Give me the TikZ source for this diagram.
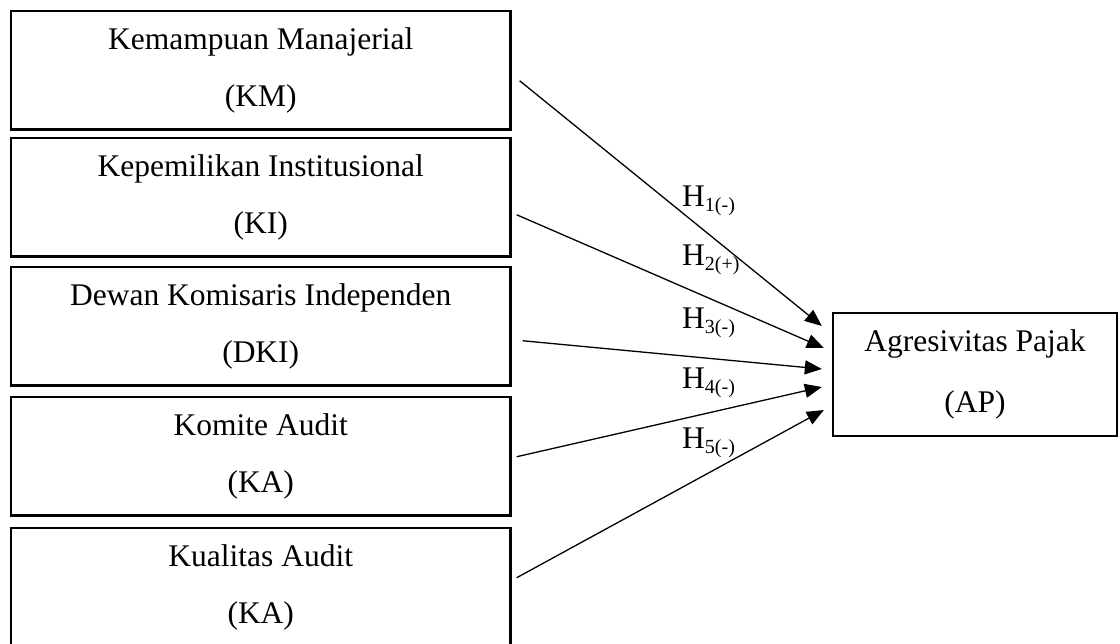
\documentclass[tikz,border=0pt]{standalone}
\usepackage{fontspec}
\setmainfont{Liberation Serif}
\usetikzlibrary{calc,arrows.meta}
\newcommand\hlab[2]{H\raisebox{-5pt}{\fontsize{20}{20}\selectfont #1(#2)}}
\begin{document}
\begin{tikzpicture}[x=1pt,y=-1pt,
  varbox/.style={draw, line width=2.3pt, minimum width=499.5pt, minimum height=118.5pt,
    inner sep=0pt, align=center, font=\fontsize{31.5}{57.5}\selectfont},
  depbox/.style={draw, line width=2.3pt, minimum width=284pt, minimum height=123pt,
    inner sep=0pt, align=center, font=\fontsize{31.5}{61}\selectfont},
  link/.style={line width=1.3pt, -{Triangle[length=17pt,width=14pt]}},
  hlabel/.style={anchor=base west, inner sep=0pt, font=\fontsize{31.5}{31.5}\selectfont}]
\useasboundingbox (0,0) rectangle (1120,644);
\node[varbox] (km)  at (260.75,70.25)  {Kemampuan Manajerial\\(KM)};
\node[varbox] (ki)  at (260.75,197.25) {Kepemilikan Institusional\\(KI)};
\node[varbox] (dki) at (260.75,326.25) {Dewan Komisaris Independen\\(DKI)};
\node[varbox] (ka)  at (260.75,456.25) {Komite Audit\\(KA)};
\node[varbox] (kua) at (260.75,587.25) {Kualitas Audit\\(KA)};
\node[depbox] (ap)  at (975,374.5) {Agresivitas Pajak\\(AP)};
\coordinate (s1) at ($(km.east)+(8,10.5)$);
\coordinate (s2) at ($(ki.east)+(5,17.5)$);
\coordinate (s3) at ($(dki.east)+(11,14.5)$);
\coordinate (s4) at ($(ka.east)+(5,0.5)$);
\coordinate (s5) at ($(kua.east)+(5,-9.5)$);
\coordinate (e1) at ($(ap.west)+(-10,-48.5)$);
\coordinate (e2) at ($(ap.west)+(-8,-26.5)$);
\coordinate (e3) at ($(ap.west)+(-10,-5.5)$);
\coordinate (e4) at ($(ap.west)+(-10,12.5)$);
\coordinate (e5) at ($(ap.west)+(-8,35.5)$);
\draw[link] (s1) -- (e1);
\draw[link] (s2) -- (e2);
\draw[link] (s3) -- (e3);
\draw[link] (s4) -- (e4);
\draw[link] (s5) -- (e5);
\node[hlabel] (h1) at (682,207) {\hlab{1}{-}};
\node[hlabel] (h2) at (682,266) {\hlab{2}{+}};
\node[hlabel] (h3) at (682,329) {\hlab{3}{-}};
\node[hlabel] (h4) at (682,389) {\hlab{4}{-}};
\node[hlabel] (h5) at (682,449) {\hlab{5}{-}};
\end{tikzpicture}
\end{document}
